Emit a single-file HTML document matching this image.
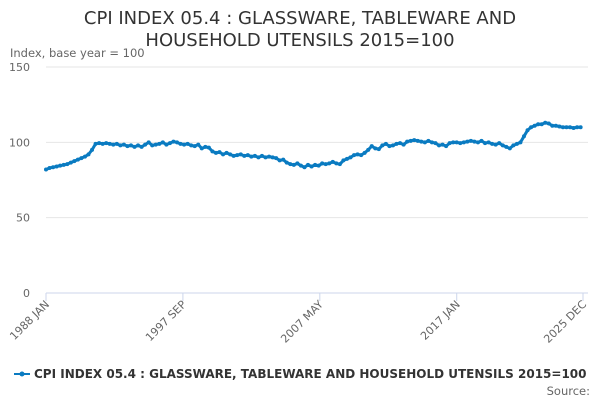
<!DOCTYPE html>
<html><head><meta charset="utf-8"><style>
body{margin:0;background:#fff;font-family:"Liberation Sans","DejaVu Sans",sans-serif}
svg text{font-family:"DejaVu Sans","Liberation Sans",sans-serif}
</style></head><body>
<svg id="c" width="600" height="400">
<text x="300" y="24" text-anchor="middle" font-size="18" fill="#333">CPI INDEX 05.4 : GLASSWARE, TABLEWARE AND</text>
<text x="300" y="46" text-anchor="middle" font-size="18" fill="#333">HOUSEHOLD UTENSILS 2015=100</text>
<text x="10" y="57" font-size="11.5" fill="#666">Index, base year = 100</text>
<g id="grid"></g><g id="xax"></g><g id="series"></g>
<g>
<line x1="14" y1="374" x2="30" y2="374" stroke="#0a7bc1" stroke-width="2"/>
<circle cx="22" cy="374" r="2.5" fill="#0a7bc1"/>
<text x="34" y="378" font-size="12" font-weight="bold" fill="#333">CPI INDEX 05.4 : GLASSWARE, TABLEWARE AND HOUSEHOLD UTENSILS 2015=100</text>
</g>
<text x="590" y="395" text-anchor="end" font-size="11.5" fill="#666">Source:</text>
</svg>
<script>
const yTicks=[0,50,100,150];
const xTickLabels=["1988 JAN","1997 SEP","2007 MAY","2017 JAN","2025 DEC"];
const xTickMonths=[0,116,232,348,455];
const startYear=1988;
const values=[82,83,83.5,84,84.5,85,85.5,86.5,87.5,88.5,89.5,90.5,92,95,99,99.5,99,99.5,99,98.5,99,98,98.5,97.5,98,97,98,97,98.5,100,98,98.5,99,100,98.5,99.5,100.5,100,99,98.5,99,98,97.5,98.5,96,97,96.5,94,93,93.5,92,93,92,91,91.5,92,91,91.5,90.5,91,90,91,90,90.5,90,89.5,88,88.5,86.5,85.5,85,86,84.5,83.5,85,84,85,84.5,86,85.5,86,87,86,85.5,88,89,90,91.5,92,91.5,93,95,97.5,96,95.5,98,99,97.5,98,99,99.5,98.5,100.5,101,101.5,101,100.5,100,101,100,99.5,98,98.5,97.5,99.5,100,100,99.5,100,100.5,101,100.5,100,101,99.5,100,99,98.5,99.5,98,97,96,98,99,100,104,108,110,111,112,112,113,112.5,111,111,110.5,110,110,110,109.5,110,110];
const NS="http://www.w3.org/2000/svg";
const x0=46,x1=583,y0=293,y1=67;
const xS=m=>x0+(x1-x0)*m/455;
const yS=v=>y0-(y0-y1)*v/150;
function mk(t,a,p){const e=document.createElementNS(NS,t);for(const k in a)e.setAttribute(k,a[k]);p.appendChild(e);return e;}
const grid=document.getElementById('grid');
yTicks.forEach(v=>{
 const l=mk('line',{x1:x0,x2:x1+5,y1:yS(v),y2:yS(v),stroke:v===0?'#ccd6eb':'#e6e6e6','stroke-width':1},grid);
 
 
 const t=mk('text',{x:30,y:yS(v)+4,'text-anchor':'end','font-size':11,fill:'#666'},grid);
 t.textContent=v;
 
 
});
const xax=document.getElementById('xax');
xTickMonths.forEach((m,i)=>{
 const x=xS(m);
 const tk=mk('line',{x1:x,x2:x,y1:y0,y2:y0+8,stroke:'#ccd6eb'},xax);
 
 
 const t=mk('text',{x:x+4,y:y0+12,'text-anchor':'end','font-size':11,fill:'#666',transform:`rotate(-45 ${x+4} ${y0+12})`},xax);
 t.textContent=xTickLabels[i];
 
 
});
const s=document.getElementById('series');
const pts=values.map((v,i)=>[xS(i*3),yS(v)]);
const pl=mk('polyline',{points:pts.map(p=>p.join(',')).join(' '),fill:'none',stroke:'#0a7bc1','stroke-width':3,'stroke-linejoin':'round'},s);


pts.forEach(p=>{
 const c=mk('circle',{cx:p[0],cy:p[1],r:2,fill:'#0a7bc1'},s);
 
 
});
</script>
</body></html>
